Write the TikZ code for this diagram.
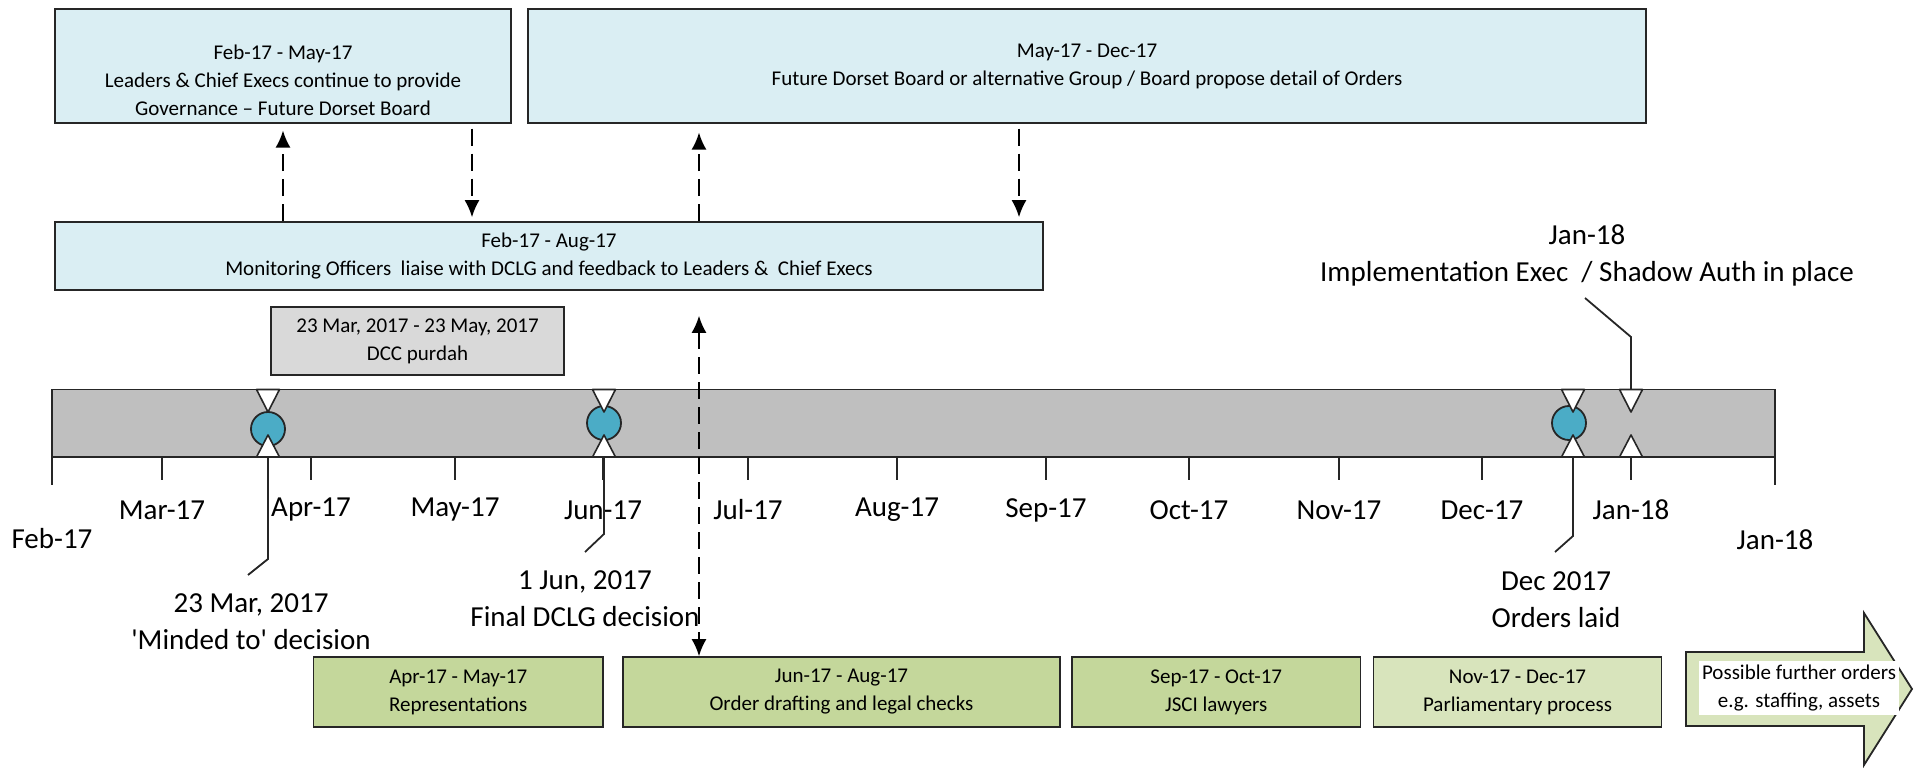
\documentclass[tikz,border=0pt]{standalone}
\usepackage{fontspec}
\setmainfont{Carlito}
\usetikzlibrary{arrows.meta}
\definecolor{boxblue}{HTML}{DAEEF3}
\definecolor{purdahgrey}{HTML}{D9D9D9}
\definecolor{bargrey}{HTML}{BFBFBF}
\definecolor{milestone}{HTML}{4BACC6}
\definecolor{phasegreen}{HTML}{C4D79B}
\definecolor{palegreen}{HTML}{D8E4BC}
\newcommand\tlsmall{\fontsize{10.5}{14}\selectfont}
\newcommand\tlbig{\fontsize{14.5}{18.5}\selectfont}

\begin{document}
\begin{tikzpicture}[x=0.5pt,y=-0.5pt,
  box/.style={draw=black!85, line width=0.9pt, inner sep=0pt, align=center, font=\tlsmall},
  bluebox/.style={box, fill=boxblue},
  greenbox/.style={box, fill=phasegreen, minimum height=35pt},
  month/.style={font=\tlbig, inner sep=0pt},
  callout/.style={font=\tlbig, align=center, inner sep=0pt},
  leader/.style={line width=0.9pt, black!85},
  tick/.style={line width=0.8pt, black!85},
  dasharr/.style={line width=0.8pt, dash pattern=on 8.5pt off 4pt, -{Latex[length=8.5pt,width=7.5pt]}},
  marktri/.style={draw=black!85, line width=0.8pt, fill=white, line join=round},
]
\useasboundingbox (0,0) rectangle (1919,770);

% governance boxes
\node[bluebox, minimum width=228pt, minimum height=56.75pt] (lead) at (283,66) {};
\node[font=\tlsmall, align=center, inner sep=0pt] (leadtxt) at (283,80) {Feb-17 - May-17\\Leaders \& Chief Execs continue to provide\\Governance -- Future Dorset Board};
\node[bluebox, minimum width=559.25pt, minimum height=56.75pt] (fdb) at (1087,66) {May-17 - Dec-17\\Future Dorset Board or alternative Group / Board propose detail of Orders};
\node[bluebox, minimum width=494.25pt, minimum height=34pt] (mon) at (549,256) {Feb-17 - Aug-17\\Monitoring Officers \ liaise with DCLG and feedback to Leaders \& \ Chief Execs};
\node[box, fill=purdahgrey, minimum width=146.5pt, minimum height=34pt] (purdah) at (417.5,341) {23 Mar, 2017 - 23 May, 2017\\DCC purdah};

% timeline bar
\draw[line width=0.9pt, draw=black!85, fill=bargrey] (52,389.5) rectangle (1775,457);
\foreach \tx/\tm in {162/Mar-17,311/Apr-17,455/May-17,603/Jun-17,748/Jul-17,897/Aug-17,1046/Sep-17,1189/Oct-17,1339/Nov-17,1482/Dec-17,1631/Jan-18}{
  \draw[tick] (\tx,457) -- (\tx,480);
  \node[month] (m\tx) at (\tx,510) {\tm};
}
\draw[tick] (52,457) -- (52,485);
\draw[tick] (1775,457) -- (1775,485);
\node[month] (mstart) at (52,539) {Feb-17};
\node[month] (mend) at (1775,540) {Jan-18};

% milestones
\foreach \cx/\cy in {268/429,604/423,1569/423}
  \draw[line width=0.9pt, black!85, fill=milestone] (\cx,\cy) circle[radius=8.5pt];
\foreach \mx in {268,604,1573,1631}{
  \draw[marktri] (\mx-11.5,389.5) -- (\mx+11.5,389.5) -- (\mx,412) -- cycle;
  \draw[marktri] (\mx-11.5,457) -- (\mx+11.5,457) -- (\mx,435) -- cycle;
}

% callouts
\coordinate (ms1) at (268,457);
\coordinate (ms2) at (604,457);
\coordinate (ms3) at (1573,457);
\coordinate (ms4) at (1631,389.5);
\node[callout] (minded) at (251,622) {23 Mar, 2017\\\textquotesingle Minded to\textquotesingle{} decision};
\node[callout] (final) at (585,599) {1 Jun, 2017\\Final DCLG decision};
\node[callout] (laid) at (1556,600) {Dec 2017\\Orders laid};
\node[callout] (shadow) at (1587,255) {Jan-18\\Implementation Exec \ / Shadow Auth in place};
\coordinate (minded-e) at (248,575);
\coordinate (final-e) at (585,552);
\coordinate (laid-e) at (1555,552);
\coordinate (shadow-e) at (1585,298);
\draw[leader] (ms1) -- (268,559) -- (minded-e);
\draw[leader] (ms2) -- (604,534) -- (final-e);
\draw[leader] (ms3) -- (1573,536) -- (laid-e);
\draw[leader] (ms4) -- (1631,337) -- (shadow-e);

% phases
\node[greenbox, minimum width=144.75pt] (reps) at (458.25,692) {Apr-17 - May-17\\Representations};
\node[greenbox, minimum width=218.5pt] (draft) at (841.5,692) {Jun-17 - Aug-17\\Order drafting and legal checks};
\node[greenbox, minimum width=144.25pt] (jsci) at (1216.25,692) {Sep-17 - Oct-17\\JSCI lawyers};
\node[greenbox, fill=palegreen, minimum width=144pt] (parl) at (1517.5,692) {Nov-17 - Dec-17\\Parliamentary process};
\draw[line width=0.9pt, black!85, fill=palegreen] (1686,652) -- (1864,652) -- (1864,613) -- (1912,689) -- (1864,765) -- (1864,726) -- (1686,726) -- cycle;
\node[fill=white, minimum width=100pt, minimum height=27pt, inner sep=0pt, align=center, font=\tlsmall] (further) at (1799,688) {Possible further orders\\e.g. staffing, assets};

% dashed links
\coordinate (c1) at (283,0);
\coordinate (c2) at (472,0);
\coordinate (c3) at (699,0);
\coordinate (c4) at (1019,0);
\draw[dasharr, shorten >=3.5pt] (mon.north -| c1) -- (lead.south -| c1);
\draw[dasharr, shorten <=2.5pt, shorten >=2pt] (lead.south -| c2) -- (mon.north -| c2);
\draw[dasharr, shorten >=4.5pt] (mon.north -| c3) -- (fdb.south -| c3);
\draw[dasharr, shorten <=2.5pt, shorten >=2pt] (fdb.south -| c4) -- (mon.north -| c4);
\draw[dasharr, {Latex[length=8.5pt,width=7.5pt]}-{Latex[length=8.5pt,width=7.5pt]}, shorten <=12.5pt] (mon.south -| c3) -- (draft.north -| c3);
\end{tikzpicture}
\end{document}
